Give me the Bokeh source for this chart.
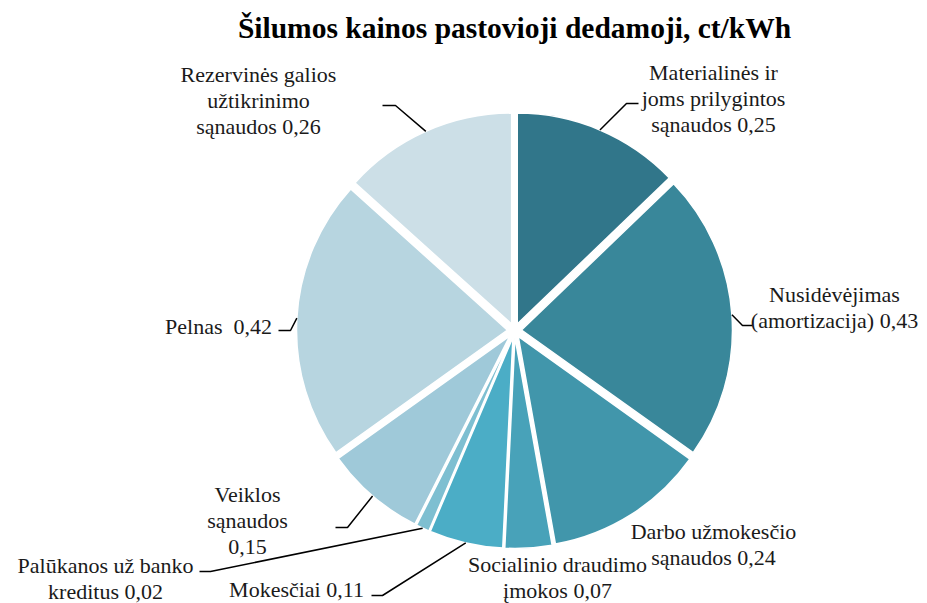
import math
from bokeh.plotting import figure
from bokeh.models import Range1d
from bokeh.embed import file_html
from bokeh.resources import INLINE
from bokeh.core.properties import value

# ---- data ----
title_text = "Šilumos kainos pastovioji dedamoji, ct/kWh"
label_templates = [
    "Materialinės ir\njoms prilygintos\nsąnaudos {v}",
    "Nusidėvėjimas\n(amortizacija) {v}",
    "Darbo užmokesčio\nsąnaudos {v}",
    "Socialinio draudimo\nįmokos {v}",
    "Mokesčiai {v}",
    "Palūkanos už banko\nkreditus {v}",
    "Veiklos\nsąnaudos\n{v}",
    "Pelnas \u00a0{v}",
    "Rezervinės galios\nužtikrinimo\nsąnaudos {v}",
]
values = [0.25, 0.43, 0.24, 0.07, 0.11, 0.02, 0.15, 0.42, 0.26]
colors = ["#31768a", "#39879a", "#4196ab", "#48a2b9", "#4badc6",
          "#7ebfd1", "#9fc9d9", "#b7d5e0", "#ccdfe7"]

# ---- layout (image pixel coordinates; y measured from top) ----
W, H = 927, 603
def Y(yi):
    return H - yi

CX, CY_IMG = 514, 330
R = 211
EXPLODE = 7
FONT = "Liberation Serif"
LINE_STEP = 26

# label block centres (image coords)
label_pos = [(713, 98), (834, 307), (713, 544), (557, 577), (296, 589),
             (105, 578), (247, 520), (218, 326), (258, 100)]
# leader lines: (elbow, end) in image coords, None = no leader
leaders = [((626, 103), (638, 103)),
           ((742, 325), (752, 325)),
           None,
           None,
           ((382, 595), (371, 595)),
           ((210, 571), (199, 571)),
           ((347, 527), (335, 527)),
           ((290, 330), (278, 330)),
           ((395, 105), (382, 105))]

p = figure(width=W, height=H, output_backend="svg", toolbar_location=None,
           x_range=Range1d(0, W), y_range=Range1d(0, H),
           min_border=0, border_fill_color="white", background_fill_color="white")
p.axis.visible = False
p.grid.visible = False
p.outline_line_color = None

total = sum(values)
cum = 0.0
xs, ys, starts, ends, mids = [], [], [], [], []
for v in values:
    a0 = math.pi / 2 - 2 * math.pi * cum / total
    cum += v
    a1 = math.pi / 2 - 2 * math.pi * cum / total
    m = (a0 + a1) / 2
    starts.append(a0)
    ends.append(a1)
    mids.append(m)
    xs.append(CX + EXPLODE * math.cos(m))
    ys.append(Y(CY_IMG) + EXPLODE * math.sin(m))

p.wedge(x=xs, y=ys, radius=R, start_angle=starts, end_angle=ends,
        direction="clock", fill_color=colors, line_color="white", line_width=1.5)

# leader lines
for i, ld in enumerate(leaders):
    if ld is None:
        continue
    sx = CX + (R + EXPLODE) * math.cos(mids[i])
    sy = Y(CY_IMG) + (R + EXPLODE) * math.sin(mids[i])
    (ex, ey), (tx, ty) = ld
    p.line([sx, ex, tx], [sy, Y(ey), Y(ty)], line_color="black", line_width=1.5)

labels = [t.format(v=("%.2f" % v).replace(".", ",")) for t, v in zip(label_templates, values)]
lx, ly, lt = [], [], []
for (cx, cy), lab in zip(label_pos, labels):
    lines = lab.split("\n")
    n = len(lines)
    for k, s in enumerate(lines):
        lx.append(cx)
        ly.append(Y(cy + (k - (n - 1) / 2) * LINE_STEP))
        lt.append(s)

p.text(x=lx, y=ly, text=lt,
       text_font=value(FONT), text_font_size="22px", text_font_style="normal",
       text_color="#1a1a1a", text_align="center", text_baseline="middle")

p.text(x=[514], y=[Y(27)], text=[title_text], text_font=value(FONT),
       text_font_size="29.5px", text_font_style="bold", text_color="black",
       text_align="center", text_baseline="middle")

open("out.html", "w").write(file_html(p, INLINE))
